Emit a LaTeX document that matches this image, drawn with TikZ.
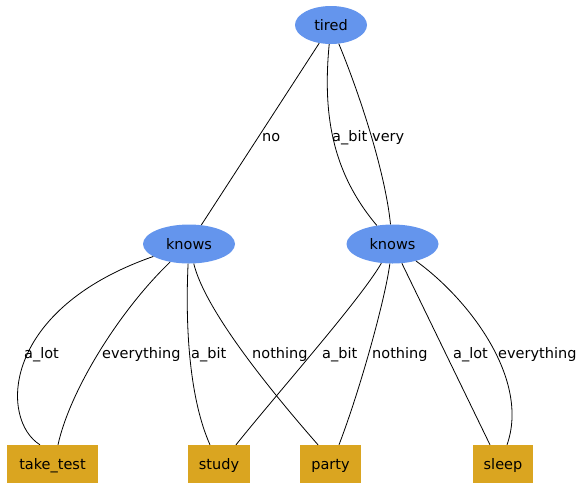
\documentclass[tikz,border=0pt]{standalone}
\usepackage{fontspec}
\setmainfont{DejaVu Sans}
\usetikzlibrary{shapes.geometric}
\definecolor{cornflower}{HTML}{6495ED}
\definecolor{golden}{HTML}{DAA520}
\tikzset{
    state/.style={ellipse, fill=cornflower, inner sep=0pt, minimum width=92pt, minimum height=39pt, text height=12pt, text depth=0.5pt},
    action/.style={rectangle, fill=golden, inner sep=0pt, minimum height=38pt, text height=12pt, text depth=0.5pt},
    lbl/.style={anchor=west, inner sep=0pt, text height=10.5pt, text depth=3pt},
    edge/.style={line width=0.8pt}
}
\begin{document}
\begin{tikzpicture}[x=1pt, y=-1pt, font=\fontsize{14.5}{17}\selectfont]
        \useasboundingbox (0,0) rectangle (579,483);

        \node[state, minimum width=72pt, minimum height=38pt] (tired) at (331,25) {tired};
        \node[state] (kl) at (189,244) {knows};
        \node[state] (kr) at (392.5,244) {knows};

        \node[action, minimum width=91pt] (tt) at (52.5,464) {take\_test};
        \node[action, minimum width=62pt] (st) at (219,464) {study};
        \node[action, minimum width=61pt] (pa) at (330.5,464) {party};
        \node[action, minimum width=60pt] (sl) at (503,464) {sleep};

        \draw[edge] (tired) -- (kl);
        \draw[edge] (tired) .. controls (323,110) and (330,170) .. (kr);
        \draw[edge] (tired) .. controls (358,90) and (385,170) .. (kr);

        \draw[edge] (kl) .. controls (0,310) and (0,420) .. ([xshift=-12.5pt]tt.north);
        \draw[edge] (kl) .. controls (120,310) and (70,390) .. ([xshift=5.5pt]tt.north);
        \draw[edge] (kl) .. controls (185,330) and (190,400) .. ([xshift=-9pt]st.north);
        \draw[edge] (kl) .. controls (205,310) and (270,390) .. ([xshift=-12.5pt]pa.north);

        \draw[edge] (kr) .. controls (360,300) and (280,390) .. ([xshift=17pt]st.north);
        \draw[edge] (kr) .. controls (385,300) and (360,390) .. ([xshift=8.5pt]pa.north);
        \draw[edge] (kr) -- ([xshift=-13pt]sl.north);
        \draw[edge] (kr) .. controls (470,300) and (530,380) .. ([xshift=4pt]sl.north);

        \node[lbl] (no) at (262,138) {no};
        \node[lbl] (abit1) at (332,138) {a\_bit};
        \node[lbl] (very) at (372,138) {very};

        \node[lbl] (alot1) at (24,355) {a\_lot};
        \node[lbl] (every1) at (102,355) {everything};
        \node[lbl] (abit2) at (191,355) {a\_bit};
        \node[lbl] (noth1) at (252,355) {nothing};
        \node[lbl] (abit3) at (322,355) {a\_bit};
        \node[lbl] (noth2) at (372,355) {nothing};
        \node[lbl] (alot2) at (453,355) {a\_lot};
        \node[lbl] (every2) at (498,355) {everything};
    \end{tikzpicture}
\end{document}
